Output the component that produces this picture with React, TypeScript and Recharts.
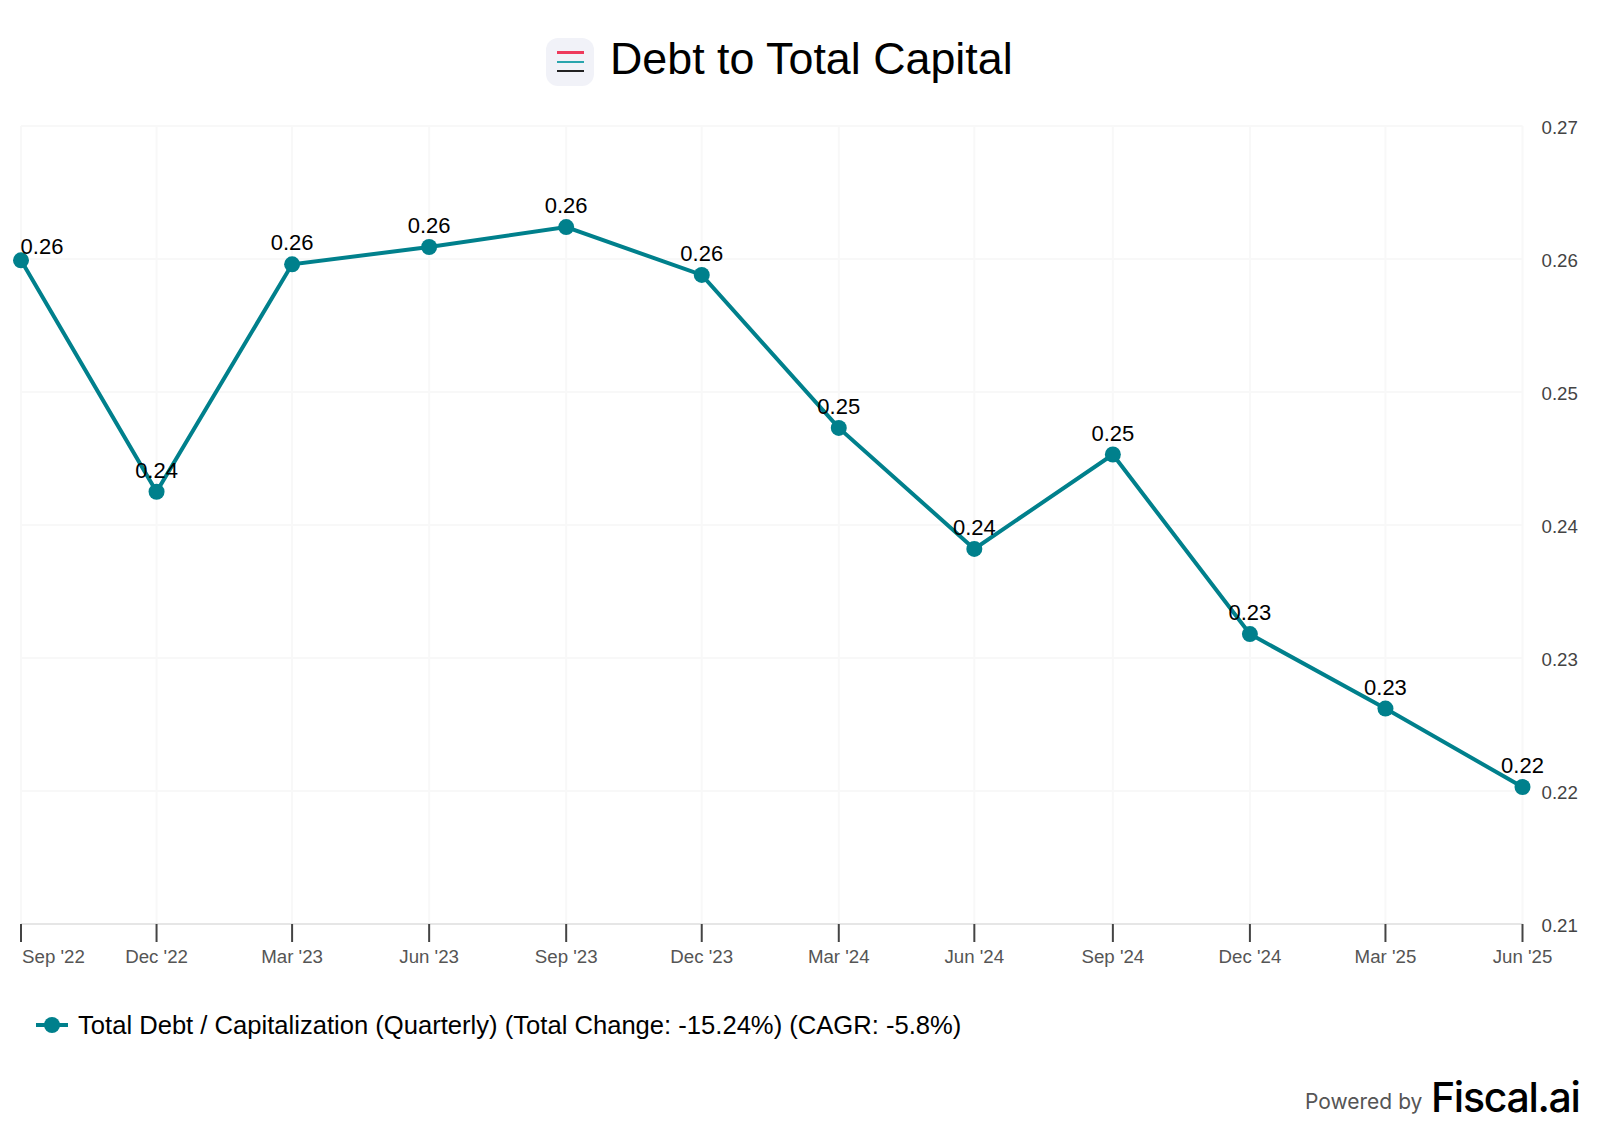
import React from "react";
import { LineChart, Line, XAxis, YAxis, CartesianGrid, LabelList } from "recharts";

const quarters = ["Sep '22", "Dec '22", "Mar '23", "Jun '23", "Sep '23", "Dec '23", "Mar '24", "Jun '24", "Sep '24", "Dec '24", "Mar '25", "Jun '25"];
// day offsets from the first quarter, the axis is a time axis
const days = [0, 91, 182, 274, 366, 457, 549, 640, 733, 825, 916, 1008];
const debtToCapital = [0.2599, 0.2425, 0.2596, 0.2609, 0.2624, 0.2588, 0.2473, 0.2382, 0.2453, 0.2318, 0.2262, 0.2203];
const yTicks = [0.21, 0.22, 0.23, 0.24, 0.25, 0.26, 0.27];

const legendLabel = "Total Debt / Capitalization (Quarterly) (Total Change: -15.24%) (CAGR: -5.8%)";
const TEAL = "#00808c";
const FONT = "'Liberation Sans', Arial, sans-serif";

const data = days.map((d, i) => ({ day: d, value: debtToCapital[i] }));

function QuarterTick({ x, y, payload, index }: any) {
  const i = days.indexOf(payload.value);
  return (
    <text x={index === 0 ? x + 32.5 : x} y={y + 19} textAnchor="middle" fontSize={18.7} fontFamily={FONT} fill="#555">
      {quarters[i]}
    </text>
  );
}

function PointLabel({ x, y, value, index }: any) {
  return (
    <text x={index === 0 ? x + 21 : x} y={index === 0 ? y - 6 : y - 14} textAnchor="middle" fontSize={22} fontFamily={FONT} fill="#000">
      {Number(value).toFixed(2)}
    </text>
  );
}

export default function App() {
  return (
    <div style={{ position: "absolute", left: 0, top: 0, width: 1600, height: 1133, background: "#fff", fontFamily: FONT }}>
      <div style={{ position: "absolute", left: 546, top: 38, width: 48, height: 48, borderRadius: 12, background: "#f1f2f8" }}>
        <div style={{ position: "absolute", left: 11, top: 13, width: 27, height: 3, background: "#ee3a5c" }} />
        <div style={{ position: "absolute", left: 11, top: 23, width: 27, height: 2, background: "#2aa5ad" }} />
        <div style={{ position: "absolute", left: 11, top: 32, width: 27, height: 2, background: "#222" }} />
      </div>
      <div style={{ position: "absolute", left: 610, top: 32, fontSize: 44.8, lineHeight: "52px", color: "#000", whiteSpace: "nowrap" }}>
        Debt to Total Capital
      </div>

      <LineChart width={1600} height={1133} data={data} margin={{ top: 126, left: 21, right: 2.5, bottom: 149 }}>
        <CartesianGrid stroke="#f8f8f8" strokeWidth={2} />
        <XAxis
          dataKey="day"
          type="number"
          domain={[0, 1008]}
          ticks={days}
          height={60}
          interval={0}
          tickSize={18}
          tickLine={{ stroke: "#444", strokeWidth: 2 }}
          axisLine={{ stroke: "#e6e6e6", strokeWidth: 2 }}
          tick={<QuarterTick />}
        />
        <YAxis
          orientation="right"
          domain={[0.21, 0.27]}
          ticks={yTicks}
          width={75}
          interval={0}
          axisLine={false}
          tickLine={false}
          tickMargin={13}
          dy={1}
          tick={{ fontSize: 18.7, fontFamily: FONT, fill: "#444", textAnchor: "start" }}
          tickFormatter={(v) => v.toFixed(2)}
        />
        <Line
          dataKey="value"
          type="linear"
          stroke={TEAL}
          strokeWidth={4}
          dot={{ r: 8, fill: TEAL, stroke: TEAL, strokeWidth: 0 }}
          isAnimationActive={false}
        >
          <LabelList dataKey="value" content={<PointLabel />} />
        </Line>
      </LineChart>

      <svg style={{ position: "absolute", left: 36, top: 1013 }} width={32} height={24}>
        <line x1={0} x2={32} y1={12} y2={12} stroke={TEAL} strokeWidth={4} />
        <circle cx={16} cy={12} r={8} fill={TEAL} />
      </svg>
      <div style={{ position: "absolute", left: 78, top: 1010, fontSize: 25.6, lineHeight: "30px", color: "#000", whiteSpace: "nowrap" }}>
        {legendLabel}
      </div>

      <div style={{ position: "absolute", left: 1305, top: 1089, fontSize: 21, lineHeight: "26px", color: "#555", fontFamily: "Inter, sans-serif", whiteSpace: "nowrap" }}>
        Powered by
      </div>
      <div style={{ position: "absolute", left: 1431, top: 1073, fontSize: 41, lineHeight: "48px", fontWeight: 500, color: "#000", fontFamily: "Inter, sans-serif", letterSpacing: -1.3, whiteSpace: "nowrap" }}>
        Fiscal.ai
      </div>
    </div>
  );
}
